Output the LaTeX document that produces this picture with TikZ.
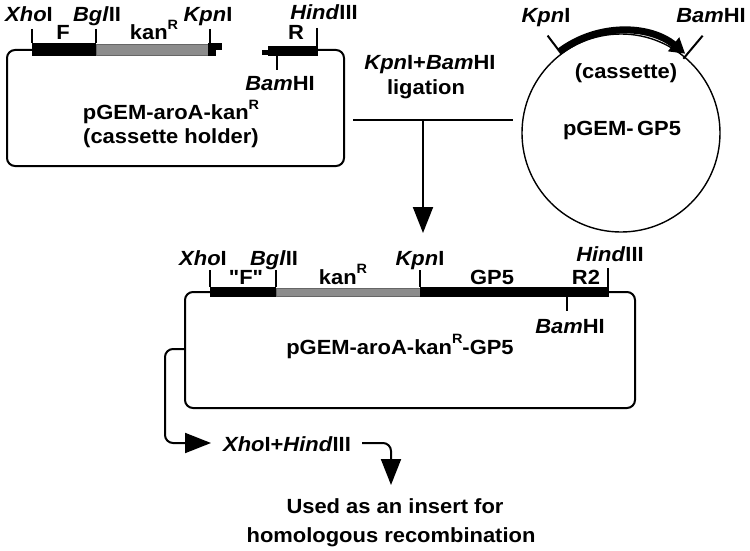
\documentclass[tikz,border=0pt]{standalone}
\usepackage{fontspec}
\setmainfont{Liberation Sans}[FakeStretch=1.07, Ligatures=TeXOff]
\usetikzlibrary{arrows.meta}
\newcommand\enz[2]{\textit{#1}#2}
\newcommand\supR{\raisebox{0.5em}{\fontsize{13.5}{13.5}\selectfont R}}
\begin{document}
\begin{tikzpicture}[x=1pt,y=1pt,
  lbl/.style={font=\fontsize{20.5}{22}\selectfont\bfseries, inner sep=0pt, anchor=base},
  ln/.style={line width=2pt},
  tickln/.style={line width=2pt},
  blk/.style={fill=black},
  gry/.style={fill=black!45, draw=black!60, line width=0.6pt},
  tri/.style={-{Triangle[length=26pt,width=20pt]}},
  tri2/.style={-{Triangle[length=15pt,width=17pt]}}]
\useasboundingbox (0,0) rectangle (750,-551);

% ---------- top-left plasmid (cassette holder) ----------
\draw[ln, rounded corners=8] (32,-50) -- (7,-50) -- (7,-166) -- (344,-166) -- (344,-50) -- (317,-50);
\fill[blk] (32,-43) rectangle (96,-56);
\filldraw[gry] (96,-44) rectangle (208,-55);
\fill[blk] (208,-43) rectangle (216,-56);
\fill[blk] (216,-43) rectangle (222,-50);
\fill[blk] (268,-46) rectangle (318,-56);
\fill[blk] (262,-50) rectangle (268,-55);
\draw[tickln] (32,-29) -- (32,-43);
\draw[tickln] (96,-29) -- (96,-43);
\draw[tickln] (210,-29) -- (210,-43);
\draw[tickln] (317,-28) -- (317,-47);
\draw[tickln] (277,-56) -- (277,-70);

\node[lbl] (xho1) at (29,-22) {\enz{Xho}{I}};
\node[lbl] (bgl1) at (97,-22) {\enz{Bgl}{II}};
\node[lbl] (kpn1) at (208,-22) {\enz{Kpn}{I}};
\node[lbl] (hind1) at (324,-20) {\enz{Hind}{III}};
\node[lbl] (f1) at (63,-40) {F};
\node[lbl] (kan1) at (154,-40) {kan\supR};
\node[lbl] (r1) at (296,-40) {R};
\node[lbl] (bam1) at (280,-91) {\enz{Bam}{HI}};
\node[lbl] (holder1) at (171,-120) {pGEM-aroA-kan\supR};
\node[lbl] (holder2) at (171,-143) {(cassette holder)};

% ---------- ligation ----------
\node[lbl] (lig1) at (430,-70) {\enz{Kpn}{I}+\enz{Bam}{HI}};
\node[lbl] (lig2) at (426,-95) {ligation};
\coordinate (ligL) at (353,-120);
\coordinate (ligR) at (513,-120);
\coordinate (ligM) at (423,-120);
\coordinate (ligT) at (423,-233);
\draw[ln] (ligL) -- (ligR);
\draw[ln, tri] (ligM) -- (ligT);

% ---------- pGEM-GP5 circle ----------
\coordinate (cc) at (621,-133);
\draw[line width=1.4pt] (cc) circle[radius=99];
\draw[line width=7pt, tri2] ([shift={(127:102)}]cc) arc[start angle=127, end angle=51, radius=102];
\draw[tickln] ([shift={(127:99)}]cc) -- ([shift={(127:122)}]cc);
\draw[tickln] ([shift={(50:97)}]cc) -- ([shift={(50:127)}]cc);
\node[lbl] (kpn2) at (546,-23) {\enz{Kpn}{I}};
\node[lbl] (bam2) at (711,-23) {\enz{Bam}{HI}};
\node[lbl] (cas) at (626,-79) {(cassette)};
\node[lbl] (gp5) at (622,-135) {pGEM-\,GP5};

% ---------- bottom plasmid ----------
\draw[ln, rounded corners=8] (210,-292) -- (185,-292) -- (185,-408) -- (635,-408) -- (635,-292) -- (608,-292);
\fill[blk] (210,-287) rectangle (276,-297);
\filldraw[gry] (276,-288) rectangle (420,-296);
\fill[blk] (420,-287) rectangle (609,-297);
\draw[tickln] (210,-270) -- (210,-287);
\draw[tickln] (276,-270) -- (276,-287);
\draw[tickln] (420,-270) -- (420,-287);
\draw[tickln] (608,-268) -- (608,-287);
\draw[tickln] (567,-297) -- (567,-311);

\node[lbl] (xho3) at (203,-265) {\enz{Xho}{I}};
\node[lbl] (bgl3) at (274,-265) {\enz{Bgl}{II}};
\node[lbl] (f3) at (246,-284) {"F"};
\node[lbl] (kan3) at (343,-284) {kan\supR};
\node[lbl] (kpn3) at (420,-265) {\enz{Kpn}{I}};
\node[lbl] (gp53) at (492,-284) {GP5};
\node[lbl] (r23) at (586,-284) {R2};
\node[lbl] (hind3) at (610,-261) {\enz{Hind}{III}};
\node[lbl] (bam3) at (570,-333) {\enz{Bam}{HI}};
\node[lbl] (final) at (400,-354) {pGEM-aroA-kan\supR-GP5};

% ---------- digestion ----------
\coordinate (bx) at (185,-349);
\node[lbl] (dig) at (287,-451) {\enz{Xho}{I}+\enz{Hind}{III}};
\draw[ln, rounded corners=8, tri] (bx) -- (165,-349) -- (165,-443) -- (211,-443);
\draw[ln, rounded corners=8, tri] (362,-443) -- (391,-443) -- (391,-485);
\node[lbl] (use1) at (395,-513) {Used as an insert for};
\node[lbl] (use2) at (391,-542) {homologous recombination};
\end{tikzpicture}
\end{document}
